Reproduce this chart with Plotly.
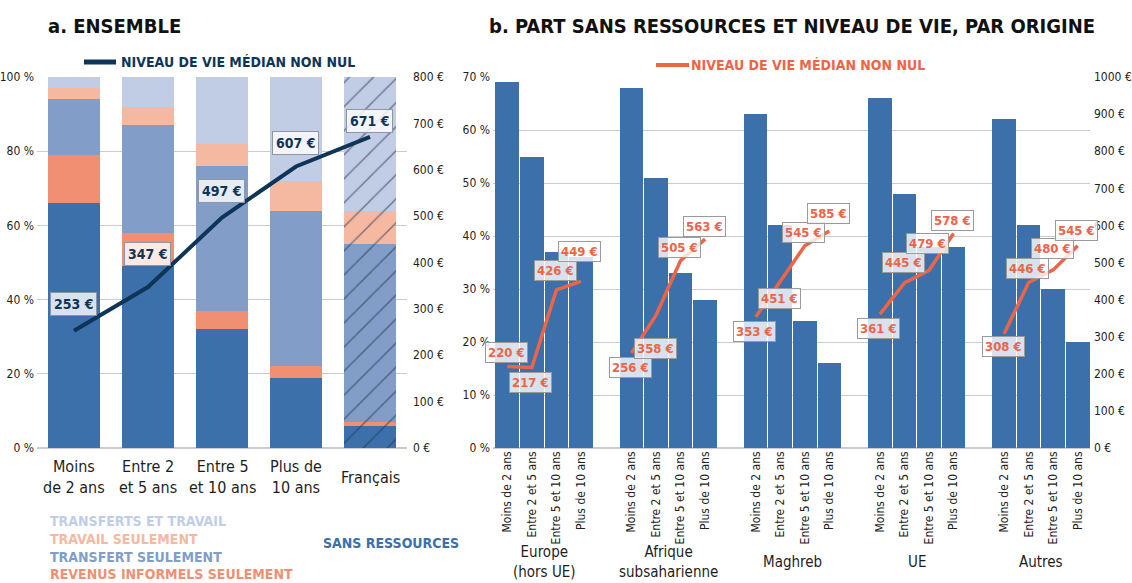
import plotly.graph_objects as go

# ---------------------------------------------------------------- data
# a. Ensemble : répartition par type de ressources (en %)
anciennete = ["Moins de 2 ans", "Entre 2 et 5 ans", "Entre 5 et 10 ans",
              "Plus de 10 ans", "Français"]
anciennete_labels = ["Moins<br>de 2 ans", "Entre 2<br>et 5 ans", "Entre 5<br>et 10 ans",
                     "Plus de<br>10 ans", "Français"]
sans_ressources = [66, 49, 32, 19, 6]
revenus_informels = [13, 9, 5, 3, 1]
transfert_seul = [15, 29, 39, 42, 48]
travail_seul = [3, 5, 6, 8, 9]
transferts_et_travail = [3, 8, 18, 28, 36]
niveau_vie_ensemble = [253, 347, 497, 607, 671]

# b. Part sans ressources (en %) et niveau de vie médian (en €), par origine
origines = ["Europe<br>(hors UE)", "Afrique<br>subsaharienne", "Maghreb", "UE", "Autres"]
durees = ["Moins de 2 ans", "Entre 2 et 5 ans", "Entre 5 et 10 ans", "Plus de 10 ans"]
part_europe = [69, 55, 37, 36]
part_afrique = [68, 51, 33, 28]
part_maghreb = [63, 42, 24, 16]
part_ue = [66, 48, 38, 38]
part_autres = [62, 42, 30, 20]
nv_europe = [220, 217, 426, 449]
nv_afrique = [256, 358, 505, 563]
nv_maghreb = [353, 451, 545, 585]
nv_ue = [361, 445, 479, 578]
nv_autres = [308, 446, 480, 545]

parts = [part_europe, part_afrique, part_maghreb, part_ue, part_autres]
niveaux = [nv_europe, nv_afrique, nv_maghreb, nv_ue, nv_autres]

# ---------------------------------------------------------------- style
W, H = 1132, 583
FONT = "'DejaVu Sans Condensed', 'Roboto Condensed', 'Liberation Sans Narrow', Roboto, sans-serif"
NAVY = "#0e3557"
ORANGE = "#ee6446"
C_SANS = "#3b70ab"
C_INFORMEL = "#f08f72"
C_TRANSFERT = "#819dc8"
C_TRAVAIL = "#f5b8a0"
C_TT = "#c1cde4"
GRID = "#cbcbcb"
TXT = "#1e1e1e"

# vertical offsets (px) of the value boxes relative to their point
shift_a = [27, 33, 27, 24, 16]
shift_b = [[14, -15, 19, 30],
           [-14, -33, 13, 13],
           [-14, -18, 13, 17],
           [-14, 20, 27, 13],
           [-13, 14, 21, 15]]

def px_x(p):
    return p / W

def px_y(p):
    return 1 - p / H

Y_DOM = [px_y(448), px_y(77)]
GROUP_STEP = 124 / 24.5   # distance between groups, in bar widths

fig = go.Figure()

# ---------------------------------------------------------------- panel a
stack = [
    ("Sans ressources", sans_ressources, C_SANS),
    ("Revenus informels seulement", revenus_informels, C_INFORMEL),
    ("Transfert seulement", transfert_seul, C_TRANSFERT),
    ("Travail seulement", travail_seul, C_TRAVAIL),
    ("Transferts et travail", transferts_et_travail, C_TT),
]
hatch = ["/" if a == "Français" else "" for a in anciennete]
for name, vals, col in stack:
    fig.add_trace(go.Bar(
        x=anciennete, y=vals, name=name, width=0.7,
        marker=dict(color=col, line=dict(width=0),
                    pattern=dict(shape=hatch, fgcolor="#223043", size=17,
                                 solidity=0.09, fillmode="overlay")),
        xaxis="x", yaxis="y", showlegend=False))

fig.add_trace(go.Scatter(
    x=anciennete, y=niveau_vie_ensemble, mode="lines",
    line=dict(color=NAVY, width=4), xaxis="x", yaxis="y2", showlegend=False,
    name="Niveau de vie médian non nul"))

# ---------------------------------------------------------------- panel b
tickvals, ticktext = [], []
for g, (orig, vals, nv) in enumerate(zip(origines, parts, niveaux)):
    xs = [g * GROUP_STEP + i for i in range(len(durees))]
    tickvals += xs
    ticktext += durees
    fig.add_trace(go.Bar(x=xs, y=vals, width=0.96, marker=dict(color=C_SANS, line=dict(width=0)),
                         xaxis="x2", yaxis="y3", showlegend=False, name=orig))
    fig.add_trace(go.Scatter(x=xs, y=nv, mode="lines", line=dict(color=ORANGE, width=3.5),
                             xaxis="x2", yaxis="y4", showlegend=False, name=orig))

annotations = []

# value boxes, panel a
for a, v, s in zip(anciennete, niveau_vie_ensemble, shift_a):
    annotations.append(dict(
        x=a, y=v, xref="x", yref="y2", text=f"{v} €", showarrow=False, yshift=s, xshift=-1,
        font=dict(family=FONT, size=14, color=NAVY, weight="bold"),
        bgcolor="rgba(255,255,255,0.8)", bordercolor="#8c96a3", borderwidth=1, borderpad=3))

# value boxes, panel b
for g, nv in enumerate(niveaux):
    for i, v in enumerate(nv):
        annotations.append(dict(
            x=g * GROUP_STEP + i, y=v, xref="x2", yref="y4", text=f"{v} €",
            showarrow=False, yshift=shift_b[g][i], xshift=-1,
            font=dict(family=FONT, size=13, color=ORANGE, weight="bold"),
            bgcolor="rgba(255,255,255,0.8)", bordercolor="#9a9a9a", borderwidth=1, borderpad=2))

# category labels, panel a
for a, lab in zip(anciennete, anciennete_labels):
    annotations.append(dict(x=a, y=px_y(477), xref="x", yref="paper", text=lab,
                            showarrow=False, yanchor="middle",
                            font=dict(family=FONT, size=16, color=TXT)))

# origin labels, panel b
for g, orig in enumerate(origines):
    annotations.append(dict(x=g * GROUP_STEP + 1.5, y=px_y(562), xref="x2", yref="paper",
                            text=orig, showarrow=False, yanchor="middle",
                            font=dict(family=FONT, size=15, color=TXT)))

# titles
annotations.append(dict(x=px_x(46), y=px_y(26), xref="paper", yref="paper",
                        text="a. ENSEMBLE", showarrow=False, xanchor="left", yanchor="middle",
                        font=dict(family=FONT, size=20, color="#111111", weight="bold")))
annotations.append(dict(x=px_x(487), y=px_y(26), xref="paper", yref="paper",
                        text="b. PART SANS RESSOURCES ET NIVEAU DE VIE, PAR ORIGINE",
                        showarrow=False, xanchor="left", yanchor="middle",
                        font=dict(family=FONT, size=20, color="#111111", weight="bold")))

# line keys
annotations.append(dict(x=px_x(119), y=px_y(62), xref="paper", yref="paper",
                        text="NIVEAU DE VIE MÉDIAN NON NUL", showarrow=False,
                        xanchor="left", yanchor="middle",
                        font=dict(family=FONT, size=14, color=NAVY, weight="bold")))
annotations.append(dict(x=px_x(689), y=px_y(65), xref="paper", yref="paper",
                        text="NIVEAU DE VIE MÉDIAN NON NUL", showarrow=False,
                        xanchor="left", yanchor="middle",
                        font=dict(family=FONT, size=14, color=ORANGE, weight="bold")))

# colour key for the stacked bars
key_rows = [("TRANSFERTS ET TRAVAIL", C_TT, 521), ("TRAVAIL SEULEMENT", C_TRAVAIL, 539),
            ("TRANSFERT SEULEMENT", C_TRANSFERT, 557),
            ("REVENUS INFORMELS SEULEMENT", C_INFORMEL, 574)]
for txt, col, yy in key_rows:
    annotations.append(dict(x=px_x(48), y=px_y(yy), xref="paper", yref="paper", text=txt,
                            showarrow=False, xanchor="left", yanchor="middle",
                            font=dict(family=FONT, size=14, color=col, weight="bold")))
annotations.append(dict(x=px_x(321), y=px_y(543), xref="paper", yref="paper",
                        text="SANS RESSOURCES", showarrow=False, xanchor="left",
                        yanchor="middle",
                        font=dict(family=FONT, size=14, color=C_SANS, weight="bold")))

shapes = [
    dict(type="line", xref="paper", yref="paper", x0=px_x(84), x1=px_x(116),
         y0=px_y(62), y1=px_y(62), line=dict(color=NAVY, width=5)),
    dict(type="line", xref="paper", yref="paper", x0=px_x(656), x1=px_x(689),
         y0=px_y(65), y1=px_y(65), line=dict(color=ORANGE, width=4)),
]

tick_font = dict(family=FONT, size=12, color=TXT)
fig.update_layout(
    width=W, height=H, margin=dict(l=0, r=0, t=0, b=0, pad=0, autoexpand=False),
    paper_bgcolor="white", plot_bgcolor="white",
    barmode="stack", bargap=0, showlegend=False,
    annotations=annotations, shapes=shapes,
    xaxis=dict(domain=[px_x(37), px_x(407)], anchor="y", type="category",
               range=[-0.5, 4.5], showticklabels=False, showgrid=False, zeroline=False,
               showline=False, ticks="", automargin=False),
    yaxis=dict(domain=Y_DOM, anchor="x", range=[0, 100], dtick=20, ticksuffix=" %",
               showgrid=True, gridcolor=GRID, gridwidth=1, zeroline=True,
               zerolinecolor=GRID, zerolinewidth=1.5, tickfont=tick_font, ticks="",
               ticklabelstandoff=2, automargin=False),
    yaxis2=dict(overlaying="y", side="right", anchor="x", range=[0, 800], dtick=100,
                ticksuffix=" €", showgrid=False, zeroline=False, tickfont=tick_font,
                ticks="", ticklabelstandoff=5, automargin=False),
    xaxis2=dict(domain=[px_x(493), px_x(1090)], anchor="y3",
                range=[-0.5 - 2 / 24.5, 4 * GROUP_STEP + 3.5], tickmode="array",
                tickvals=tickvals, ticktext=ticktext, tickangle=-90,
                tickfont=dict(family=FONT, size=12, color=TXT), showgrid=False,
                zeroline=False, showline=False, ticks="", automargin=False),
    yaxis3=dict(domain=Y_DOM, anchor="x2", range=[0, 70], dtick=10, ticksuffix=" %",
                showgrid=True, gridcolor=GRID, gridwidth=1, zeroline=True,
                zerolinecolor=GRID, zerolinewidth=1.5, tickfont=tick_font, ticks="",
                ticklabelstandoff=2, automargin=False),
    yaxis4=dict(overlaying="y3", side="right", anchor="x2", range=[0, 1000], dtick=100,
                ticksuffix=" €", showgrid=False, zeroline=False, tickfont=tick_font,
                ticks="", ticklabelstandoff=3, automargin=False),
)

fig.write_html("out.html")
